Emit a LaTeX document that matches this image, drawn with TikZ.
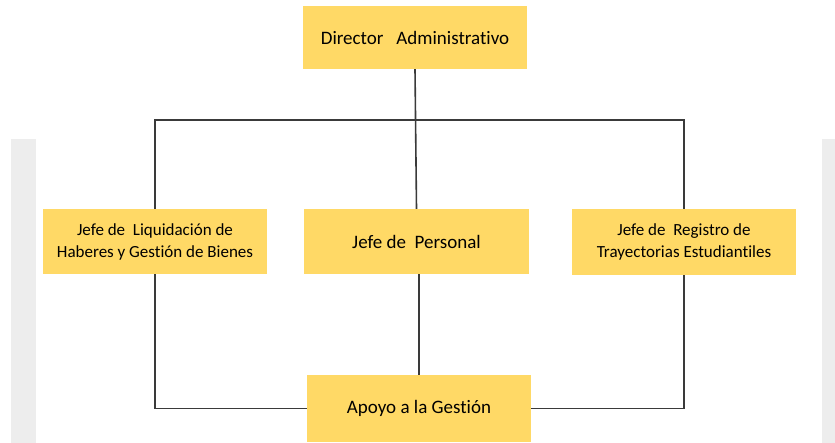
\documentclass[tikz,border=0pt]{standalone}
\usepackage{fontspec}
\setmainfont[Ligatures=NoCommon]{Carlito}
\definecolor{boxyellow}{HTML}{FFD966}
\definecolor{barGray}{HTML}{EDEDED}
\definecolor{lineGray}{HTML}{3A3A3A}
\begin{document}
\begin{tikzpicture}[x=1pt,y=-1pt,
  orgbox/.style={draw=none,fill=boxyellow,rectangle,align=center,inner sep=0pt,
    font=\fontsize{19}{22}\selectfont},
  twoline/.style={font=\fontsize{17}{22}\selectfont},
  link/.style={draw=lineGray,line width=1.6pt}]
\useasboundingbox (0,0) rectangle (835,443);
\fill[barGray] (11,139) rectangle (36,443);
\fill[barGray] (822,139) rectangle (835,443);
\node[orgbox,minimum width=224pt,minimum height=63pt] (dir) at (415,37.5) {Director\ \ \ Administrativo};
\node[orgbox,twoline,minimum width=224pt,minimum height=65pt] (liq) at (155,241.5) {Jefe de\ \ Liquidación de\\Haberes y Gestión de Bienes};
\node[orgbox,minimum width=225pt,minimum height=65pt] (per) at (416.5,241.5) {Jefe de\ \ Personal};
\node[orgbox,twoline,minimum width=224pt,minimum height=66pt] (reg) at (684,242) {Jefe de\ \ Registro de\\Trayectorias Estudiantiles};
\node[orgbox,minimum width=224pt,minimum height=67pt] (apo) at (419,408.5) {Apoyo a la Gestión};
\coordinate (busL) at (155,120);
\coordinate (busR) at (684,120);
\draw[link] (liq.north) -- (busL) -- (busR) -- (reg.north);
\draw[link] (dir.south) -- (per.north);
\draw[link] (liq.south) |- (apo.west);
\draw[link] (reg.south) |- (apo.east);
\draw[link] (per.south -| apo.north) -- (apo.north);
\end{tikzpicture}
\end{document}
